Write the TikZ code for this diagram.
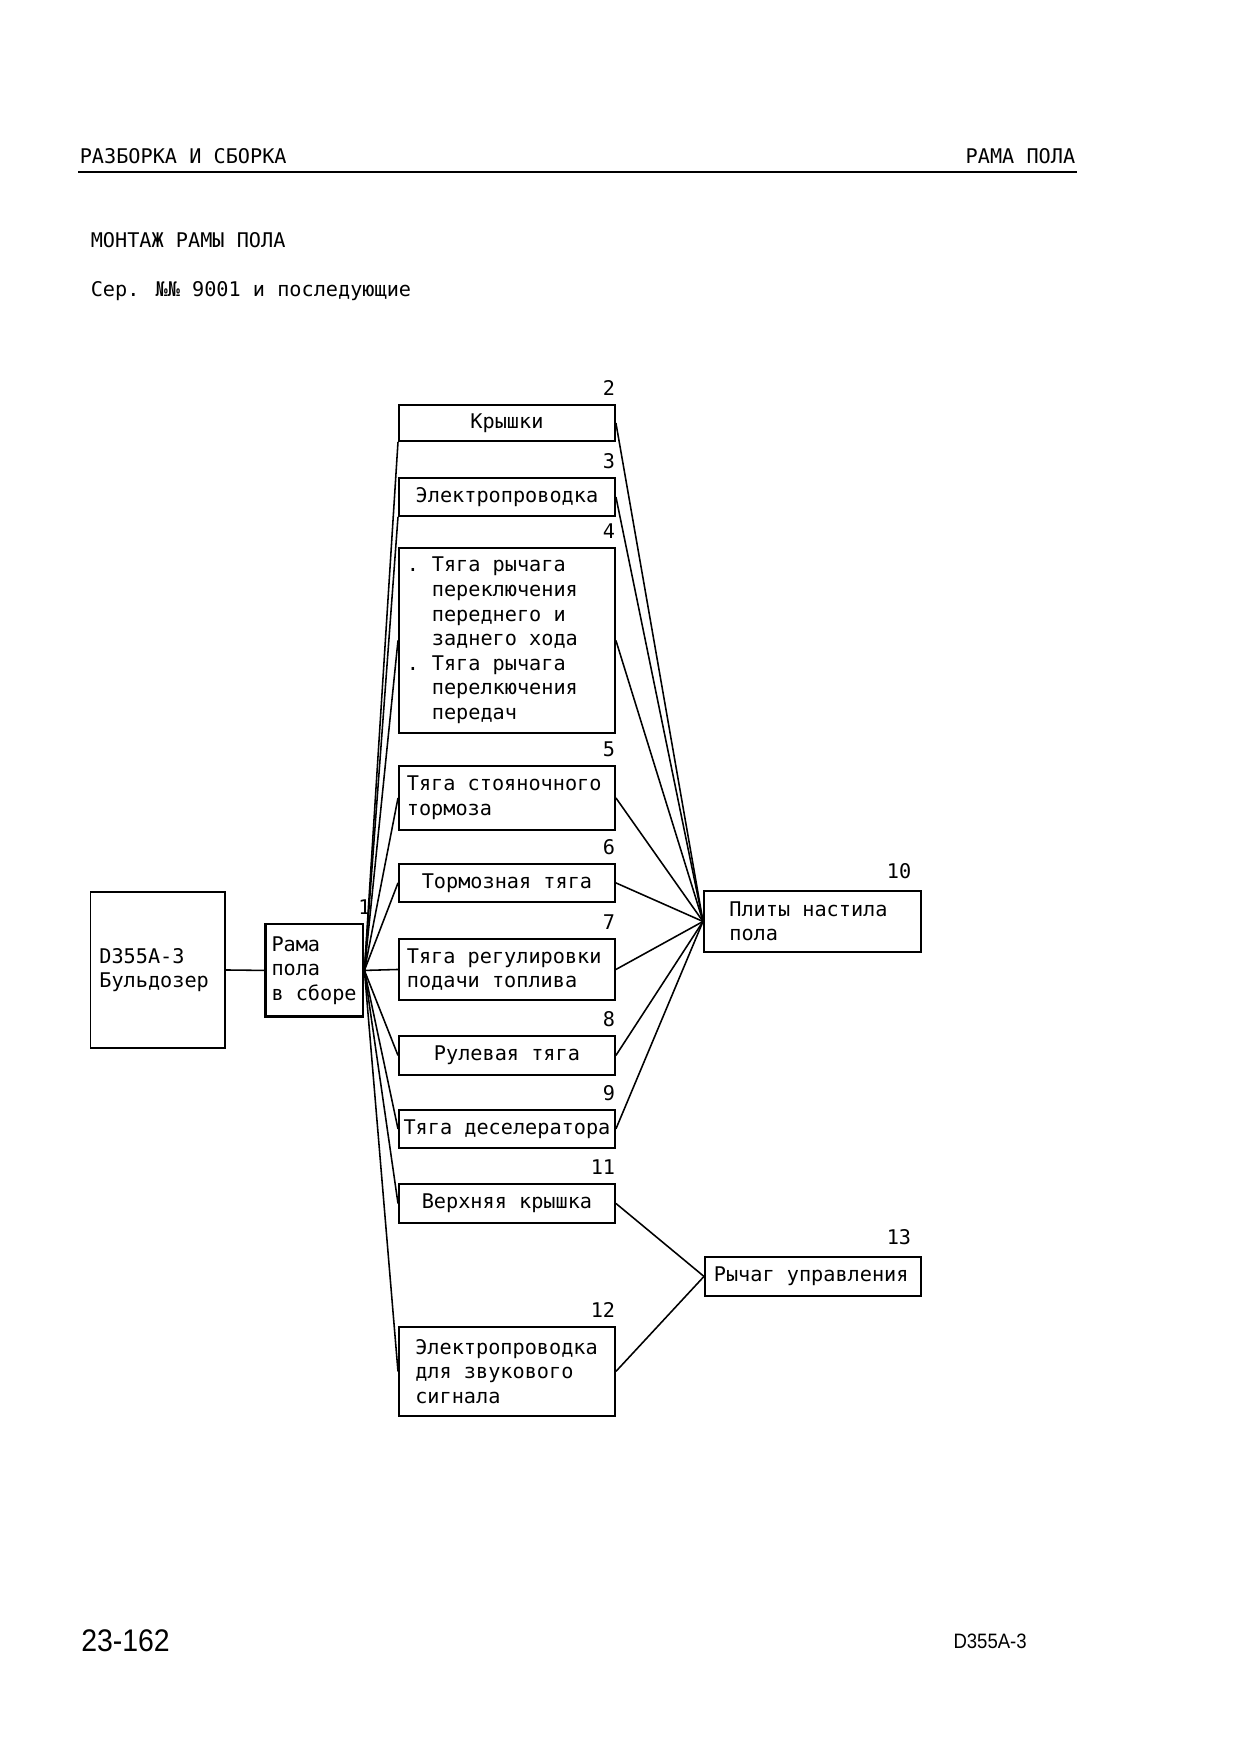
\documentclass[tikz,border=0pt]{standalone}
\usepackage{fontspec}
\newfontfamily\plotfont{DejaVu Sans Mono}
\newfontfamily\foliofont{Liberation Sans}
\tikzset{every picture/.style={line width=0.75pt}}
\tikzset{
  box/.style={draw, line width=0.9pt, inner sep=0pt, anchor=north west, minimum width=103.7pt, font={\plotfont\fontsize{9.7}{11.8}\selectfont}, align=center},
  lbox/.style={box, align=flush left, text width=#1},
  num/.style={anchor=base east, inner sep=0pt, yshift=4pt, font={\plotfont\fontsize{9.7}{11.8}\selectfont}},
  link/.style={line width=0.75pt}
}
\newcommand{\dotitem}{\makebox[12pt][l]{.}}
\newcommand{\dotskip}{\hspace*{12pt}}

\begin{document}
\begin{tikzpicture}[x=0.48pt,y=0.48pt,yscale=-1,xscale=1]
\useasboundingbox (0,0) rectangle (1240,1755);

% Page head
\draw (79,163) node [anchor=base west][inner sep=0pt] [font={\plotfont\fontsize{9.7}{11.8}\selectfont}] (headl) {РАЗБОРКА И СБОРКА};
\draw (1076,163) node [anchor=base east][inner sep=0pt] [font={\plotfont\fontsize{9.7}{11.8}\selectfont}] (headr) {РАМА ПОЛА};
\draw [line width=1.2pt] (78,172) -- (1077,172) ;
\draw (90,247) node [anchor=base west][inner sep=0pt] [font={\plotfont\fontsize{9.7}{11.8}\selectfont}] (title) {МОНТАЖ РАМЫ ПОЛА};
\draw (90,296) node [anchor=base west][inner sep=0pt] [font={\plotfont\fontsize{9.7}{11.8}\selectfont}] (serial) {Сер. №№ 9001 и последующие};

%Shape: Rectangle [bulldozer]
\draw (89.5,891) node [lbox=56pt][minimum width=64.6pt, minimum height=74.9pt] (bulldozer) {D355A-3\\Бульдозер};
%Shape: Rectangle [frame]
\draw (264,922.5) node [lbox=41pt][minimum width=46.8pt, minimum height=44.6pt, line width=1.4pt] (frame) {Рама\\пола\\в сборе};

%Shape: Rectangle [middle column]
\draw (398,404) node [box][minimum height=17.3pt] (covers) {Крышки};
\draw (398,477) node [box][minimum height=18.2pt] (wiring) {Электропроводка};
\draw (398,547) node [lbox=96.1pt][minimum height=88.8pt] (shiftrod) {\dotitem Тяга рычага\\\dotskip переключения\\\dotskip переднего и\\\dotskip заднего хода\\\dotitem Тяга рычага\\\dotskip перелкючения\\\dotskip передач};
\draw (398,765) node [lbox=96.1pt][minimum height=30.7pt] (parkrod) {Тяга стояночного\\тормоза};
\draw (398,863) node [box][minimum height=18.2pt] (brakerod) {Тормозная тяга};
\draw (398,938) node [lbox=96.1pt][minimum height=29.3pt] (fuelrod) {Тяга регулировки\\подачи топлива};
\draw (398,1035) node [box][minimum height=18.7pt] (steerrod) {Рулевая тяга};
\draw (398,1109) node [box][minimum height=18.2pt] (decelrod) {Тяга деселератора};
\draw (398,1183) node [box][minimum height=18.7pt] (topcover) {Верхняя крышка};
\draw (398,1326) node [lbox=88pt][minimum height=42.7pt] (hornwiring) {Электропроводка\\для звукового\\сигнала};

%Shape: Rectangle [right column]
\draw (703,890) node [lbox=79.8pt][minimum width=104.2pt, minimum height=29.3pt] (floorplate) {Плиты настила\\пола};
\draw (704,1256) node [lbox=95.1pt][minimum height=18.7pt] (ctrllever) {Рычаг управления};

% Text Node
\draw (frame.north east) node [num][anchor=base] (n1) {1};
\draw (covers.north east) node [num] (n2) {2};
\draw (wiring.north east) node [num] (n3) {3};
\draw (shiftrod.north east) node [num] (n4) {4};
\draw (parkrod.north east) node [num] (n5) {5};
\draw (brakerod.north east) node [num] (n6) {6};
\draw (fuelrod.north east) node [num] (n7) {7};
\draw (steerrod.north east) node [num] (n8) {8};
\draw (decelrod.north east) node [num] (n9) {9};
\draw (floorplate.north east) node [num][xshift=-4.8pt, yshift=1.3pt] (n10) {10};
\draw (topcover.north east) node [num] (n11) {11};
\draw (hornwiring.north east) node [num] (n12) {12};
\draw (ctrllever.north east) node [num][xshift=-4.8pt, yshift=1.3pt] (n13) {13};

%Straight Lines [frame to parts]
\draw [link] (bulldozer.east) -- (frame.west) ;
\draw [link] (frame.east) -- (covers.south west) ;
\draw [link] (frame.east) -- (wiring.south west) ;
\draw [link] (frame.east) -- (shiftrod.west) ;
\draw [link] (frame.east) -- (parkrod.west) ;
\draw [link] (frame.east) -- (brakerod.west) ;
\draw [link] (frame.east) -- (fuelrod.west) ;
\draw [link] (frame.east) -- (steerrod.west) ;
\draw [link] (frame.east) -- (decelrod.west) ;
\draw [link] (frame.east) -- (topcover.west) ;
\draw [link] (frame.east) -- (hornwiring.west) ;

%Straight Lines [parts to plates]
\draw [link] (covers.east) -- (floorplate.west) ;
\draw [link] (wiring.east) -- (floorplate.west) ;
\draw [link] (shiftrod.east) -- (floorplate.west) ;
\draw [link] (parkrod.east) -- (floorplate.west) ;
\draw [link] (brakerod.east) -- (floorplate.west) ;
\draw [link] (fuelrod.east) -- (floorplate.west) ;
\draw [link] (steerrod.east) -- (floorplate.west) ;
\draw [link] (decelrod.east) -- (floorplate.west) ;

%Straight Lines [parts to lever]
\draw [link] (topcover.east) -- (ctrllever.west) ;
\draw [link] (hornwiring.east) -- (ctrllever.west) ;

% Page foot
\draw (80.5,1651) node [anchor=base west][inner sep=0pt] [font={\foliofont\fontsize{15}{18}\selectfont}] (folio) {\scalebox{0.91}[1]{23-162}};
\draw (1027.5,1648) node [anchor=base east][inner sep=0pt] [font={\foliofont\fontsize{10}{12}\selectfont}] (model) {\scalebox{0.89}[1]{D355A-3}};

\end{tikzpicture}
\end{document}
